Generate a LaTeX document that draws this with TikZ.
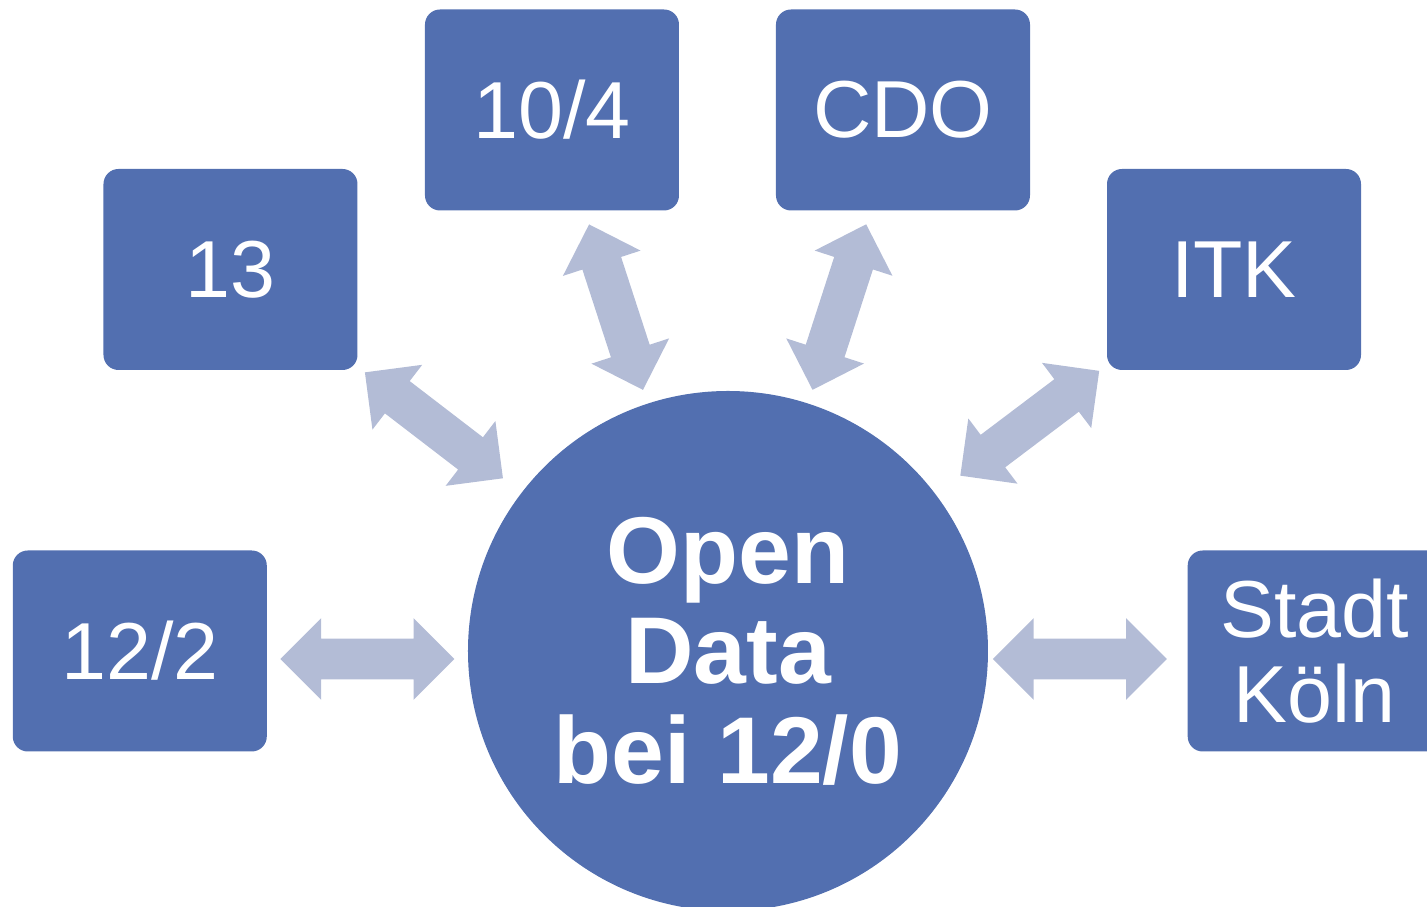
\documentclass[tikz,border=0pt]{standalone}
\usepackage{fontspec}
\setmainfont{Liberation Sans}
\usetikzlibrary{shapes, arrows, positioning}

\definecolor{boxblue}{RGB}{82,111,176}
\definecolor{arrowgrey}{RGB}{179,188,214}

\begin{document}
\begin{tikzpicture}[node distance=4cm]
        \tikzstyle{unit}=[rectangle, rounded corners=0.3cm, fill=boxblue, text=white, minimum width=5.08cm, minimum height=4.02cm, inner sep=0pt, align=center, font=\fontsize{46}{48}\selectfont]
        \tikzstyle{hub}=[circle, fill=boxblue, text=white, minimum size=10.4cm, inner sep=0pt, align=center, font=\bfseries\fontsize{54}{57}\selectfont]
        \tikzstyle{link}=[double arrow, fill=arrowgrey, draw=none, inner sep=0pt, text height=0.4cm, text depth=0.4cm, minimum height=3.48cm, double arrow head extend=0.41cm, sloped]
        \useasboundingbox (-14.56,-5.12) rectangle (13.98,13.02);
        \node[hub]     (OD)                      {Open\\Data\\bei 12/0};
        \node[unit]    (A)[left=4.01cm of OD]    {12/2};
        \node[unit]    (B) at (-9.95,7.63)       {13};
        \node[unit]    (C) at (-3.52,10.82)      {10/4};
        \node[unit]    (D) at (3.5,10.82)        {CDO};
        \node[unit]    (E) at (10.12,7.63)       {ITK};
        \node[unit]    (F)[right=3.98cm of OD]   {Stadt\\Köln};
        \path
        (OD) -- node[link, pos=0.5, yshift=-0.16cm]{} (A)
        (OD) -- node[link, pos=0.535]{} (B)
        (OD) -- node[link, pos=0.5]{} (C)
        (OD) -- node[link, pos=0.5]{} (D)
        (OD) -- node[link, pos=0.55]{} (E)
        (OD) -- node[link, pos=0.46, yshift=-0.16cm]{} (F);
        \end{tikzpicture}
\end{document}
